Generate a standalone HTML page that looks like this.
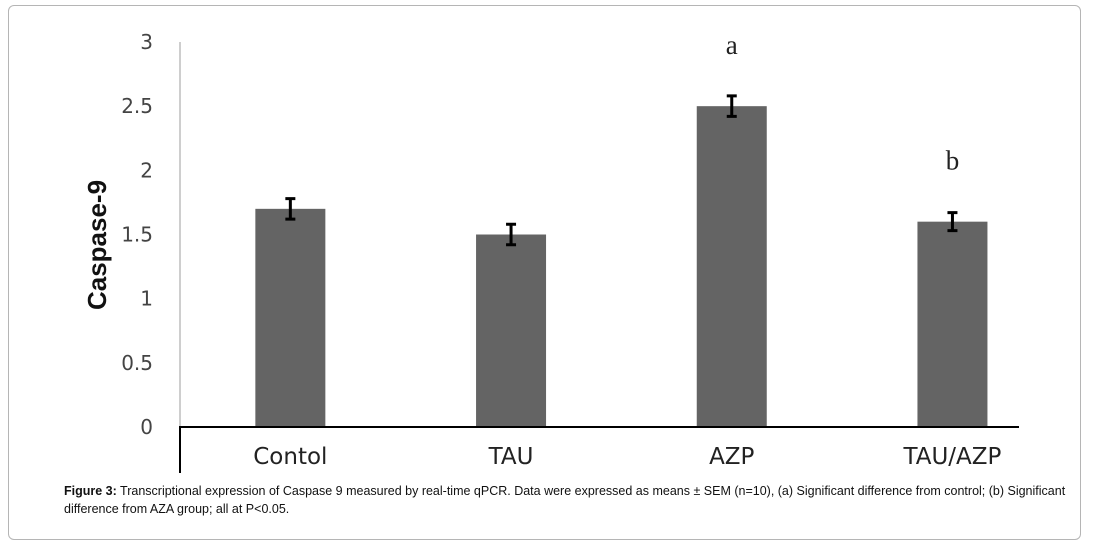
<!DOCTYPE html>
<html><head><meta charset="utf-8"><style>
body{margin:0;background:#fff;width:1095px;height:548px;overflow:hidden;font-family:"Liberation Sans",sans-serif}
#frame{position:absolute;left:8px;top:5px;width:1071px;height:533px;border:1px solid #b5b5b5;border-radius:6px}
#cap{position:absolute;left:64px;top:482px;width:1002px;font-size:12.5px;line-height:18px;color:#111}
</style></head><body>
<div id="frame"></div>
<svg id="chart" width="1095" height="548" style="position:absolute;left:0;top:0"></svg>
<div id="cap"><b>Figure 3:</b> Transcriptional expression of Caspase 9 measured by real-time qPCR. Data were expressed as means ± SEM (n=10), (a) Significant difference from control; (b) Significant difference from AZA group; all at P&lt;0.05.</div>
<script>
const categories=["Contol","TAU","AZP","TAU/AZP"];
const values=[1.7,1.5,2.5,1.6];
const errors=[0.08,0.08,0.08,0.07];
const sigLabels=["","","a","b"];
const yTicks=[0,0.5,1,1.5,2,2.5,3];
const NS="http://www.w3.org/2000/svg";
const svg=document.getElementById('chart');
const y0=427,y3=42,xL=180,xR=1019;
const y=v=>y0-(v/3)*(y0-y3);
const bw=220.7;
const xc=i=>xL+bw*(i+0.5);
function mk(t,a){const e=document.createElementNS(NS,t);for(const k in a)e.setAttribute(k,a[k]);svg.appendChild(e);return e;}
let e=mk('line',{x1:xL,y1:y3,x2:xL,y2:y0,stroke:'#bdbdbd','stroke-width':1.5});

yTicks.forEach(t=>{const el=mk('text',{x:153,y:y(t)+7,'text-anchor':'end','font-size':20,fill:'#444','font-family':'DejaVu Sans, sans-serif'});el.textContent=t;
});
e=mk('text',{x:0,y:0,transform:'translate(106,245) rotate(-90)','text-anchor':'middle','font-size':26,'font-weight':'bold',fill:'#111','font-family':'Liberation Sans, sans-serif'});e.textContent='Caspase-9';

categories.forEach((c,i)=>{
 const b=mk('rect',{x:xc(i)-35,y:y(values[i]),width:70,height:y0-y(values[i]),fill:'#646464'});
 
 const hi=y(values[i]+errors[i]),lo=y(values[i]-errors[i]);
 const g=mk('path',{d:`M${xc(i)} ${hi}V${lo}M${xc(i)-5} ${hi}H${xc(i)+5}M${xc(i)-5} ${lo}H${xc(i)+5}`,stroke:'#000','stroke-width':3,fill:'none'});
 
 const l=mk('text',{x:xc(i),y:464,'text-anchor':'middle','font-size':23,fill:'#222','font-family':'DejaVu Sans, sans-serif'});l.textContent=c;
 
 if(sigLabels[i]){const s=mk('text',{x:xc(i),y:y(values[i])-52,'text-anchor':'middle','font-size':27,fill:'#222','font-family':'Liberation Serif, serif'});s.textContent=sigLabels[i];
 }
});
e=mk('path',{d:`M${xL} 473V${y0}H${xR}`,stroke:'#000','stroke-width':2,fill:'none'});

</script>
</body></html>
